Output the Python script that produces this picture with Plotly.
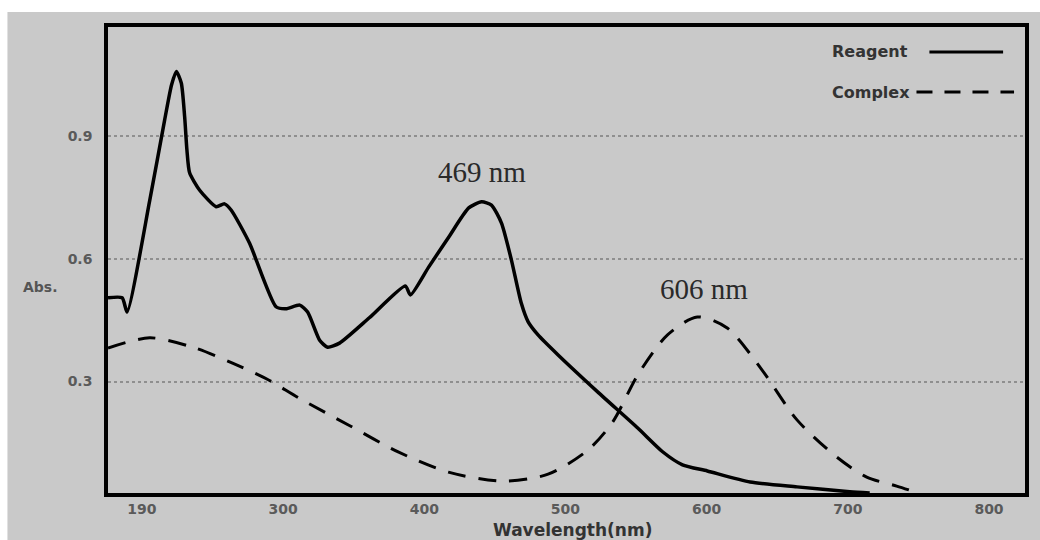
import plotly.graph_objects as go

# ---- data ----
reagent_nm = [176, 186, 189.5, 205.6, 216.1, 221.0, 224.4, 227.9, 230.3, 231.9, 233.8, 240.8,
              252.6, 258.5, 263.2, 276.2, 295.0, 302.0, 311.8, 317.4, 325.9, 331.5, 340.0,
              361.1, 386.6, 390.2, 403.1, 417.4, 431.5, 440.6, 447.6, 454.7, 461.7, 468.7,
              473.6, 480.6, 494.8, 523.0, 551.2, 568.8, 582.9, 600.5, 630.8, 664.0, 701.4, 715.5]
reagent_abs = [0.505, 0.505, 0.470, 0.744, 0.940, 1.026, 1.059, 1.031, 0.948, 0.867, 0.811, 0.769,
               0.728, 0.735, 0.720, 0.639, 0.483, 0.478, 0.487, 0.470, 0.401, 0.384, 0.394,
               0.456, 0.534, 0.512, 0.580, 0.654, 0.725, 0.740, 0.732, 0.688, 0.598, 0.492,
               0.446, 0.414, 0.365, 0.274, 0.186, 0.128, 0.096, 0.081, 0.054, 0.042, 0.030, 0.027]

complex_nm = [176, 205.6, 236.0, 264.2, 290.1, 311.4, 346.6, 381.9, 417.1, 455.9, 487.7, 515.9,
              533.5, 551.2, 572.3, 593.4, 614.6, 639.3, 664.0, 692.2, 713.4, 734.6, 750.0]
complex_abs = [0.382, 0.407, 0.384, 0.345, 0.303, 0.259, 0.193, 0.127, 0.078, 0.056, 0.073, 0.132,
               0.201, 0.316, 0.414, 0.458, 0.431, 0.328, 0.206, 0.115, 0.066, 0.044, 0.027]

x_tick_vals = [200, 300, 400, 500, 600, 700, 800]
x_tick_text = ["190", "300", "400", "500", "600", "700", "800"]
y_tick_vals = [0.3, 0.6, 0.9]
y_tick_text = ["0.3", "0.6", "0.9"]

series_names = ["Reagent", "Complex"]
peak_labels = ["469 nm", "606 nm"]

GRAY = "#c9c9c9"

fig = go.Figure()
fig.add_trace(go.Scatter(x=reagent_nm, y=reagent_abs, mode="lines", name=series_names[0],
                         line=dict(color="black", width=3.5, shape="spline", smoothing=0.6)))
fig.add_trace(go.Scatter(x=complex_nm, y=complex_abs, mode="lines", name=series_names[1],
                         line=dict(color="black", width=3, dash="18px,13px", shape="spline", smoothing=0.8)))

L, R, T, B = 108, 11, 27, 47
W, H = 1040, 540
pw, ph = W - L - R, H - T - B

def px(x):
    return (x - L) / pw

def py(y):
    return (H - B - y) / ph

tick_font = dict(family="DejaVu Sans", size=14, color="#5a5a5a", weight="bold")

fig.update_layout(
    width=W, height=H,
    margin=dict(l=L, r=R, t=T, b=B),
    paper_bgcolor="white",
    plot_bgcolor=GRAY,
    showlegend=False,
    xaxis=dict(range=[176.0, 825.5], tickvals=x_tick_vals, ticktext=x_tick_text,
               showgrid=False, zeroline=False, showline=True, linecolor="black",
               linewidth=3.5, mirror=True, ticks="", tickfont=tick_font),
    yaxis=dict(range=[0.027, 1.168], tickvals=y_tick_vals, ticktext=y_tick_text,
               showgrid=True, gridcolor="#8f8f8f", griddash="dot", gridwidth=1.5,
               zeroline=False, showline=True, linecolor="black", linewidth=3.5,
               mirror=True, ticks="", tickfont=tick_font, ticklabelstandoff=9),
    shapes=[
        dict(type="rect", xref="paper", yref="paper", x0=px(7), x1=px(1045), y0=py(545), y1=py(12),
             fillcolor=GRAY, line=dict(width=0), layer="below"),
        dict(type="line", xref="paper", yref="paper", x0=px(933), x1=px(1007), y0=py(52), y1=py(52),
             line=dict(color="black", width=3)),
        dict(type="line", xref="paper", yref="paper", x0=px(920), x1=px(1018), y0=py(92), y1=py(92),
             line=dict(color="black", width=3, dash="16px,12px")),
    ],
    annotations=[
        dict(text=series_names[0], xref="paper", yref="paper", x=px(914), y=py(52),
             xanchor="right", yanchor="middle", showarrow=False,
             font=dict(family="DejaVu Sans", size=16, color="#333333", weight="bold")),
        dict(text=series_names[1], xref="paper", yref="paper", x=px(916), y=py(92),
             xanchor="right", yanchor="middle", showarrow=False,
             font=dict(family="DejaVu Sans", size=16, color="#333333", weight="bold")),
        dict(text=peak_labels[0], xref="paper", yref="paper", x=px(484), y=py(172),
             xanchor="center", yanchor="middle", showarrow=False,
             font=dict(family="Liberation Serif", size=29, color="#2a2a2a")),
        dict(text=peak_labels[1], xref="paper", yref="paper", x=px(707), y=py(289),
             xanchor="center", yanchor="middle", showarrow=False,
             font=dict(family="Liberation Serif", size=29, color="#2a2a2a")),
        dict(text="Abs.", xref="paper", yref="paper", x=px(40), y=py(287),
             xanchor="center", yanchor="middle", showarrow=False,
             font=dict(family="DejaVu Sans", size=14, color="#555555", weight="bold")),
        dict(text="Wavelength(nm)", xref="paper", yref="paper", x=px(575), y=py(530),
             xanchor="center", yanchor="middle", showarrow=False,
             font=dict(family="DejaVu Sans", size=17, color="#333333", weight="bold")),
    ],
)

fig.write_html(
    "out.html",
    config={"displayModeBar": False},
    post_script="document.body.style.margin='0';document.body.style.padding='0';"
                "document.body.style.overflow='hidden';"
                "document.documentElement.style.overflow='hidden';",
)
